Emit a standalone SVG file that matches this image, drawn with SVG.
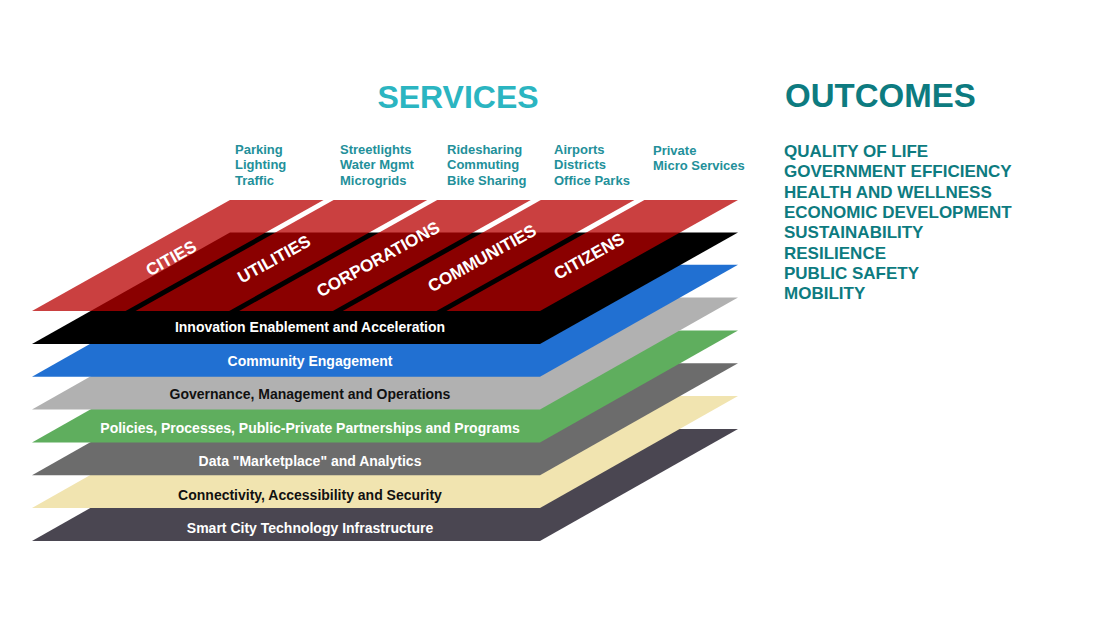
<svg xmlns="http://www.w3.org/2000/svg" width="1115" height="627" viewBox="0 0 1115 627">
<style>
text{font-family:"Liberation Sans",Arial,sans-serif;font-weight:bold}
.lbl{font-size:14px;text-anchor:middle}
.w{fill:#ffffff}
.k{fill:#111111}
.svc{font-size:13px;fill:#23909a}
.out{font-size:17px;fill:#0d7b80}
.strip{fill:#b80000;fill-opacity:0.75}
.stl{font-size:17px;fill:#ffffff;text-anchor:middle}
</style>
<rect x="0" y="0" width="1115" height="627" fill="#ffffff"/>
<g id="titles">
<text x="458" y="108" font-size="32" fill="#2bb5c1" text-anchor="middle">SERVICES</text>
<text x="785" y="107" font-size="33" fill="#0d7b80">OUTCOMES</text>
</g>
<g id="services">
<text class="svc" x="235" y="154">Parking</text>
<text class="svc" x="235" y="169.3">Lighting</text>
<text class="svc" x="235" y="184.6">Traffic</text>
<text class="svc" x="340" y="154">Streetlights</text>
<text class="svc" x="340" y="169.3">Water Mgmt</text>
<text class="svc" x="340" y="184.6">Microgrids</text>
<text class="svc" x="447" y="154">Ridesharing</text>
<text class="svc" x="447" y="169.3">Commuting</text>
<text class="svc" x="447" y="184.6">Bike Sharing</text>
<text class="svc" x="554" y="154">Airports</text>
<text class="svc" x="554" y="169.3">Districts</text>
<text class="svc" x="554" y="184.6">Office Parks</text>
<text class="svc" x="653" y="155">Private</text>
<text class="svc" x="653" y="170.3">Micro Services</text>
</g>
<g id="outcomes">
<text class="out" x="784" y="157">QUALITY OF LIFE</text>
<text class="out" x="784" y="177.3">GOVERNMENT EFFICIENCY</text>
<text class="out" x="784" y="197.6">HEALTH AND WELLNESS</text>
<text class="out" x="784" y="217.9">ECONOMIC DEVELOPMENT</text>
<text class="out" x="784" y="238.2">SUSTAINABILITY</text>
<text class="out" x="784" y="258.5">RESILIENCE</text>
<text class="out" x="784" y="278.8">PUBLIC SAFETY</text>
<text class="out" x="784" y="299.1">MOBILITY</text>
</g>
<g id="layer-infrastructure">
<polygon points="32,541 540,541 738,429 230,429" fill="#4a4651"/>
<text class="lbl w" x="310" y="532.5">Smart City Technology Infrastructure</text>
</g>
<g id="layer-connectivity">
<polygon points="32,508.1 540,508.1 738,396.1 230,396.1" fill="#f1e4b0"/>
<text class="lbl k" x="310" y="499.5">Connectivity, Accessibility and Security</text>
</g>
<g id="layer-data">
<polygon points="32,475.3 540,475.3 738,363.3 230,363.3" fill="#6c6c6c"/>
<text class="lbl w" x="310" y="466">Data "Marketplace" and Analytics</text>
</g>
<g id="layer-policies">
<polygon points="32,442.4 540,442.4 738,330.4 230,330.4" fill="#5fae5e"/>
<text class="lbl w" x="310" y="432.8">Policies, Processes, Public-Private Partnerships and Programs</text>
</g>
<g id="layer-governance">
<polygon points="32,409.6 540,409.6 738,297.6 230,297.6" fill="#b1b1b1"/>
<text class="lbl k" x="310" y="399.3">Governance, Management and Operations</text>
</g>
<g id="layer-community">
<polygon points="32,376.7 540,376.7 738,264.7 230,264.7" fill="#2170d2"/>
<text class="lbl w" x="310" y="365.5">Community Engagement</text>
</g>
<g id="layer-innovation">
<polygon points="32,344 540,344 738,232.5 230,232.5" fill="#000000"/>
<text class="lbl w" x="310" y="332">Innovation Enablement and Acceleration</text>
</g>
<g id="strip-cities">
<polygon class="strip" points="32,311 125.6,311 323.6,200 230,200"/>
<text class="stl" transform="translate(171,258) rotate(-29)" y="6">CITIES</text>
</g>
<g id="strip-utilities">
<polygon class="strip" points="135.6,311 229.2,311 427.2,200 333.6,200"/>
<text class="stl" transform="translate(274,259) rotate(-29)" y="6">UTILITIES</text>
</g>
<g id="strip-corporations">
<polygon class="strip" points="239.2,311 332.8,311 530.8,200 437.2,200"/>
<text class="stl" transform="translate(378,259) rotate(-29)" y="6">CORPORATIONS</text>
</g>
<g id="strip-communities">
<polygon class="strip" points="342.8,311 436.4,311 634.4,200 540.8,200"/>
<text class="stl" transform="translate(482,258) rotate(-29)" y="6">COMMUNITIES</text>
</g>
<g id="strip-citizens">
<polygon class="strip" points="446.4,311 540,311 738,200 644.4,200"/>
<text class="stl" transform="translate(589,256) rotate(-29)" y="6">CITIZENS</text>
</g>
</svg>
